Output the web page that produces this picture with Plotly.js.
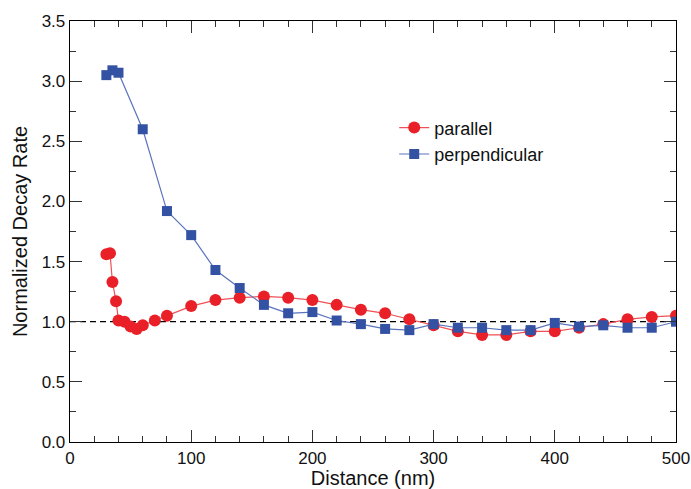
<!DOCTYPE html>
<html>
<head>
<meta charset="utf-8">
<script src="https://cdn.plot.ly/plotly-3.0.1.min.js"></script>
<style>html,body{margin:0;padding:0;background:#fff;}#chart{width:691px;height:489px;}</style>
</head>
<body>
<div id="chart"></div>
<script>
const parX = [30, 33, 35, 38, 40, 45, 50, 55, 60, 70, 80, 100, 120, 140, 160, 180, 200, 220, 240, 260, 280, 300, 320, 340, 360, 380, 400, 420, 440, 460, 480, 500];
const parY = [1.56, 1.57, 1.33, 1.17, 1.01, 1.00, 0.96, 0.94, 0.97, 1.01, 1.05, 1.13, 1.18, 1.20, 1.21, 1.20, 1.18, 1.14, 1.10, 1.07, 1.02, 0.97, 0.92, 0.89, 0.89, 0.92, 0.92, 0.95, 0.98, 1.02, 1.04, 1.05];
const perX = [30, 35, 40, 60, 80, 100, 120, 140, 160, 180, 200, 220, 240, 260, 280, 300, 320, 340, 360, 380, 400, 420, 440, 460, 480, 500];
const perY = [3.05, 3.09, 3.07, 2.60, 1.92, 1.72, 1.43, 1.28, 1.14, 1.07, 1.08, 1.01, 0.98, 0.94, 0.93, 0.98, 0.95, 0.95, 0.93, 0.93, 0.99, 0.96, 0.97, 0.95, 0.95, 1.00];
const refLevel = 1.0;

const red = 'rgb(233,32,40)';
const blue = 'rgb(52,82,164)';

const traces = [
  {x: parX, y: parY, name: 'parallel', mode: 'lines+markers',
   line: {color: 'rgb(238,80,85)', width: 1.2},
   marker: {color: red, size: 12, symbol: 'circle'}},
  {x: perX, y: perY, name: 'perpendicular', mode: 'lines+markers',
   line: {color: 'rgb(90,115,190)', width: 1.2},
   marker: {color: blue, size: 10, symbol: 'square'}}
];

const fam = 'Liberation Sans, Arial, sans-serif';
const axisCommon = {
  showgrid: false, zeroline: false, showline: true, linecolor: '#000', linewidth: 1.3,
  mirror: 'ticks', ticks: 'inside', ticklen: 12, tickwidth: 1.2, tickcolor: '#333',
  tickfont: {family: fam, size: 17, color: '#111'}
};

const layout = {
  width: 691, height: 489,
  margin: {l: 70, r: 15, t: 21, b: 47},
  paper_bgcolor: '#fff', plot_bgcolor: '#fff',
  font: {family: fam, color: '#111'},
  xaxis: Object.assign({}, axisCommon, {
    range: [0, 500], tickvals: [0, 100, 200, 300, 400, 500],
    minor: {dtick: 20, ticks: 'inside', ticklen: 6, tickwidth: 1, tickcolor: '#333'},
    title: {text: 'Distance (nm)', font: {size: 20, family: fam, color: '#111'}, standoff: 3}
  }),
  yaxis: Object.assign({}, axisCommon, {
    range: [0, 3.5], dtick: 0.5, tickformat: '.1f',
    minor: {dtick: 0.25, ticks: 'inside', ticklen: 6, tickwidth: 1, tickcolor: '#333'},
    title: {text: 'Normalized Decay Rate', font: {size: 20, family: fam, color: '#111'}, standoff: 8}
  }),
  shapes: [{type: 'line', xref: 'paper', x0: 0, x1: 1, yref: 'y', y0: refLevel, y1: refLevel,
            line: {color: '#000', width: 1.2, dash: '6px,4px'}, layer: 'below'}],
  legend: {x: 0.535, y: 0.79, xanchor: 'left', yanchor: 'top', bgcolor: 'rgba(0,0,0,0)',
           font: {size: 18, family: fam, color: '#111'}, tracegroupgap: 2},
  showlegend: true
};

Plotly.newPlot('chart', traces, layout, {displayModeBar: false, staticPlot: true});
</script>
</body>
</html>
